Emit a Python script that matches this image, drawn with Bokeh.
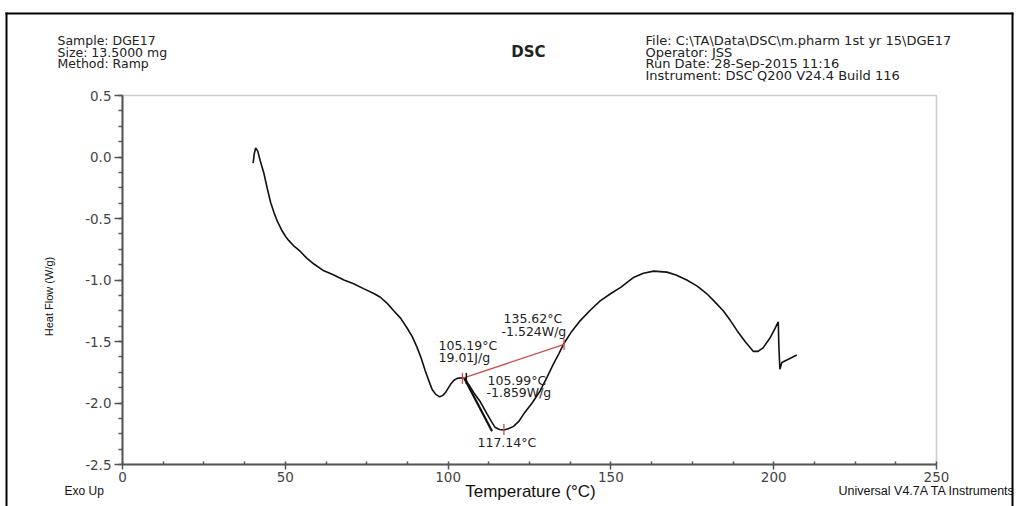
import numpy as np
from math import pi
from bokeh.plotting import figure
from bokeh.models import Range1d, FixedTicker, PrintfTickFormatter, Label, BoxAnnotation
from bokeh.embed import file_html
from bokeh.resources import INLINE

# ---------------- data ----------------
temperature = [40.1, 40.5, 40.9, 41.5, 42.3, 43.4, 44.5, 45.5, 46.5, 47.5, 49.0, 50.2,
               51.1, 52.5, 54.7, 56.5, 58.8, 61.5, 64.9, 68.0, 71.0, 74.0, 77.2, 79.2,
               81.3, 83.3, 85.4, 87.4, 89.0, 90.5, 91.8, 93.0, 94.1, 95.1, 96.2, 97.4,
               98.3, 99.2, 100.7, 101.8, 102.8, 104.3, 105.2, 106.3, 108.0, 109.9, 112.0,
               113.5, 114.5, 115.8, 117.1, 118.5, 120.1, 121.7, 123.2, 125.8, 128.3, 130.4,
               132.4, 134.0, 135.5, 137.9, 140.6, 143.5, 146.7, 150.0, 153.0, 156.9, 160.0,
               163.1, 167.2, 170.0, 173.3, 176.5, 179.4, 182.0, 184.5, 186.7, 188.7, 191.2,
               193.7, 195.2, 196.8, 198.9, 200.3, 201.4, 201.6, 201.9, 202.2, 202.5, 204.5,
               207.1]
heat_flow = [-0.05, 0.03, 0.073, 0.05, -0.03, -0.13, -0.26, -0.37, -0.45, -0.52, -0.60, -0.65,
             -0.68, -0.72, -0.77, -0.82, -0.87, -0.92, -0.96, -1.00, -1.03, -1.07, -1.11, -1.14,
             -1.19, -1.25, -1.31, -1.39, -1.46, -1.55, -1.64, -1.74, -1.82, -1.89, -1.93, -1.95,
             -1.94, -1.915, -1.85, -1.815, -1.80, -1.795, -1.80, -1.85, -1.92, -1.99, -2.09,
             -2.16, -2.20, -2.215, -2.22, -2.21, -2.19, -2.15, -2.09, -2.00, -1.90, -1.79,
             -1.68, -1.60, -1.52, -1.42, -1.33, -1.25, -1.17, -1.11, -1.06, -0.98, -0.945,
             -0.928, -0.936, -0.96, -1.00, -1.05, -1.11, -1.18, -1.25, -1.33, -1.41, -1.50,
             -1.58, -1.58, -1.55, -1.47, -1.40, -1.34, -1.55, -1.725, -1.70, -1.67, -1.645,
             -1.61]

tangent_t = [104.8, 113.5]
tangent_hf = [-1.79, -2.23]

baseline_t = [104.4, 135.62]
baseline_hf = [-1.80, -1.524]

red_mark_t = [104.4, 117.14, 135.62]
red_mark_hf = [-1.80, -2.215, -1.524]
black_mark_t = [105.6]
black_mark_hf = [-1.80]

x_ticks = [0, 50, 100, 150, 200, 250]
y_ticks = [0.5, 0.0, -0.5, -1.0, -1.5, -2.0, -2.5]

header_left = ["Sample: DGE17", "Size:  13.5000 mg", "Method: Ramp"]
header_right = ["File: C:\\TA\\Data\\DSC\\m.pharm 1st yr 15\\DGE17", "Operator: JSS",
                "Run Date: 28-Sep-2015 11:16", "Instrument: DSC Q200 V24.4 Build 116"]
annotations = ["135.62\u00b0C", "-1.524W/g", "105.19\u00b0C", "19.01J/g",
               "105.99\u00b0C", "-1.859W/g", "117.14\u00b0C"]

# ---------------- layout (canvas pixels) ----------------
W, H = 1018, 506
FL, FR, FT, FB = 122, 936, 95, 464          # where the plotting box of the original sits
XMIN, XMAX, YMIN, YMAX = 0.0, 250.0, -2.5, 0.5
SX = (XMAX - XMIN) / (FR - FL)
SY = (YMAX - YMIN) / (FB - FT)


def dx(px):
    return XMIN + (px - FL) * SX


def dy(py):
    return YMAX - (py - FT) * SY


p = figure(width=W, height=H, output_backend="svg", toolbar_location=None,
           x_range=Range1d(dx(0), dx(W)), y_range=Range1d(dy(H), dy(0)),
           min_border=0, min_border_left=0, min_border_right=0,
           min_border_top=0, min_border_bottom=0)
p.xgrid.visible = False
p.ygrid.visible = False
p.outline_line_color = None
p.background_fill_color = "white"
p.border_fill_color = "white"

AX_COLOR = "#555555"
for ax in (p.xaxis[0], p.yaxis[0]):
    ax.axis_line_color = AX_COLOR
    ax.axis_line_width = 2
    ax.major_tick_line_color = AX_COLOR
    ax.minor_tick_line_color = AX_COLOR
    ax.major_tick_line_width = 1.5
    ax.minor_tick_line_width = 1.5
    ax.major_label_text_font = "DejaVu Sans"
    ax.major_label_text_font_size = "13.5px"
    ax.major_label_text_color = "#444444"

p.xaxis.fixed_location = YMIN
p.xaxis.bounds = (XMIN, XMAX)
p.xaxis.ticker = FixedTicker(ticks=x_ticks, minor_ticks=list(np.arange(XMIN, XMAX + 0.01, 12.5)))
p.xaxis.major_tick_out = 5
p.xaxis.major_tick_in = 0
p.xaxis.minor_tick_in = 3
p.xaxis.minor_tick_out = 0
p.xaxis.major_label_standoff = 2

p.yaxis.fixed_location = XMIN
p.yaxis.bounds = (YMIN, YMAX)
p.yaxis.ticker = FixedTicker(ticks=y_ticks, minor_ticks=list(np.arange(YMIN, YMAX + 0.001, 0.125)))
p.yaxis.formatter = PrintfTickFormatter(format="%.1f")
p.yaxis.major_tick_out = 8
p.yaxis.major_tick_in = 0
p.yaxis.minor_tick_out = 4
p.yaxis.minor_tick_in = 0
p.yaxis.major_label_standoff = 3

# plotting box (top and right edges of the original frame)
p.add_layout(BoxAnnotation(left=XMIN, right=XMAX, top=YMAX, bottom=YMIN, fill_alpha=0,
                           line_color="#5a5a5a", line_width=1.6, level="underlay"))

# ---------------- marks ----------------
p.line(temperature, heat_flow, line_color="#111111", line_width=1.6)
p.line(tangent_t, tangent_hf, line_color="#111111", line_width=2.2)
p.line(baseline_t, baseline_hf, line_color="#d04848", line_width=1.3)
p.scatter(red_mark_t, red_mark_hf, marker="dash", angle=pi / 2, size=11,
          line_color="#d04848", line_width=1.3)
p.scatter(black_mark_t, black_mark_hf, marker="dash", angle=pi / 2, size=11,
          line_color="#111111", line_width=1.5)


# ---------------- texts ----------------
def lab(text, px, py, size, font="DejaVu Sans", align="left", style="normal",
        color="#222222", angle=0.0):
    p.add_layout(Label(x=dx(px), y=dy(py), text=text, text_font=font,
                       text_font_size=size, text_align=align, text_baseline="middle",
                       text_font_style=style, text_color=color, angle=angle))


HEAD_Y = [40, 51.5, 63, 74.5]
for i, t in enumerate(header_left):
    lab(t, 57, HEAD_Y[i], "12.5px")
for i, t in enumerate(header_right):
    lab(t, 645, HEAD_Y[i], "13px")
lab("DSC", 528, HEAD_Y[1], "15px", style="bold", align="center")

ann_pos = [(503, 318), (501, 331), (438, 345), (438, 357), (487, 380), (486, 392), (477, 442)]
for t, (px, py) in zip(annotations, ann_pos):
    lab(t, px, py, "12.5px")

lab("Heat Flow (W/g)", 48, 296, "11px", font="Liberation Sans", align="center",
    angle=pi / 2, color="#111111")
lab("Temperature (\u00b0C)", 530, 491, "17px", font="Liberation Sans", align="center",
    color="#111111")
lab("Exo Up", 64, 490, "12px", font="Liberation Sans", color="#111111")
lab("Universal V4.7A TA Instruments", 838, 490, "12.5px", font="Liberation Sans",
    color="#111111")

# outer border of the original page (top, left, right edges)
for l, r, t, b in [(5, 1013, 12, 14), (5, 7, 12, H), (1011, 1013, 12, H)]:
    p.add_layout(BoxAnnotation(left=dx(l), right=dx(r), top=dy(t), bottom=dy(b),
                               fill_color="black", fill_alpha=1.0, line_alpha=0))

open("out.html", "w").write(file_html(p, INLINE))
